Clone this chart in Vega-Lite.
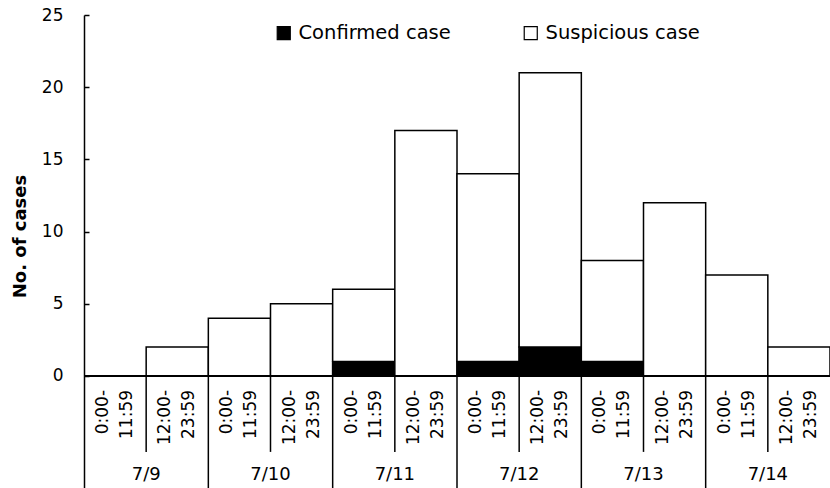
{
  "$schema": "https://vega.github.io/schema/vega-lite/v6.json",
  "width": 746,
  "height": 473,
  "autosize": {"type": "none"},
  "padding": {"left": 84, "top": 15, "right": 0, "bottom": 0},
  "background": "white",
  "config": {
    "view": {"stroke": null},
    "font": "DejaVu Sans",
    "text": {"font": "DejaVu Sans", "color": "black"}
  },
  "data": {
    "values": [
      {"slot": "7/9 AM", "day": "7/9", "part": "AM", "half": "0:00-\n11:59", "Confirmed case": 0, "Suspicious case": 0},
      {"slot": "7/9 PM", "day": "7/9", "part": "PM", "half": "12:00-\n23:59", "Confirmed case": 0, "Suspicious case": 2},
      {"slot": "7/10 AM", "day": "7/10", "part": "AM", "half": "0:00-\n11:59", "Confirmed case": 0, "Suspicious case": 4},
      {"slot": "7/10 PM", "day": "7/10", "part": "PM", "half": "12:00-\n23:59", "Confirmed case": 0, "Suspicious case": 5},
      {"slot": "7/11 AM", "day": "7/11", "part": "AM", "half": "0:00-\n11:59", "Confirmed case": 1, "Suspicious case": 5},
      {"slot": "7/11 PM", "day": "7/11", "part": "PM", "half": "12:00-\n23:59", "Confirmed case": 0, "Suspicious case": 17},
      {"slot": "7/12 AM", "day": "7/12", "part": "AM", "half": "0:00-\n11:59", "Confirmed case": 1, "Suspicious case": 13},
      {"slot": "7/12 PM", "day": "7/12", "part": "PM", "half": "12:00-\n23:59", "Confirmed case": 2, "Suspicious case": 19},
      {"slot": "7/13 AM", "day": "7/13", "part": "AM", "half": "0:00-\n11:59", "Confirmed case": 1, "Suspicious case": 7},
      {"slot": "7/13 PM", "day": "7/13", "part": "PM", "half": "12:00-\n23:59", "Confirmed case": 0, "Suspicious case": 12},
      {"slot": "7/14 AM", "day": "7/14", "part": "AM", "half": "0:00-\n11:59", "Confirmed case": 0, "Suspicious case": 7},
      {"slot": "7/14 PM", "day": "7/14", "part": "PM", "half": "12:00-\n23:59", "Confirmed case": 0, "Suspicious case": 2}
    ]
  },
  "layer": [
    {
      "transform": [{"fold": ["Confirmed case", "Suspicious case"], "as": ["type", "count"]}],
      "mark": {"type": "bar", "stroke": "black", "strokeWidth": 1.5},
      "encoding": {
        "x": {
          "field": "slot", "type": "nominal", "axis": null,
          "scale": {"type": "band", "paddingInner": 0, "paddingOuter": 0,
            "domain": ["7/9 AM", "7/9 PM", "7/10 AM", "7/10 PM", "7/11 AM", "7/11 PM", "7/12 AM", "7/12 PM", "7/13 AM", "7/13 PM", "7/14 AM", "7/14 PM"]}
        },
        "y": {
          "field": "count", "type": "quantitative", "stack": "zero",
          "scale": {"domain": [-7.76, 25], "nice": false, "zero": false},
          "axis": {
            "values": [0, 5, 10, 15, 20, 25],
            "grid": false,
            "domainColor": "black", "domainWidth": 1.5,
            "tickColor": "black", "tickSize": -5, "tickWidth": 1.5,
            "labelFontSize": 17, "labelColor": "black", "labelPadding": 26,
            "labelFont": "DejaVu Sans",
            "title": "No. of cases", "titleFontSize": 18, "titleFontWeight": "bold",
            "titleColor": "black", "titleFont": "DejaVu Sans", "titlePadding": 12,
            "titleY": 221
          }
        },
        "color": {
          "field": "type", "type": "nominal",
          "scale": {"domain": ["Confirmed case", "Suspicious case"], "range": ["black", "white"]},
          "legend": {
            "title": null, "orient": "none", "legendX": 190, "legendY": 8,
            "direction": "horizontal", "columns": 2,
            "symbolType": "square", "symbolSize": 170, "symbolStrokeColor": "black",
            "symbolStrokeWidth": 1.2, "labelFontSize": 19.5, "labelColor": "black",
            "labelFont": "DejaVu Sans", "labelOffset": 5, "columnPadding": 70
          }
        },
        "order": {"field": "type", "sort": "ascending"}
      }
    },
    {
      "mark": {"type": "rule", "color": "black", "strokeWidth": 1.5},
      "encoding": {"y": {"datum": 0}}
    },
    {
      "transform": [{"filter": "datum.part == 'PM'"}],
      "mark": {"type": "rule", "color": "black", "strokeWidth": 1.5},
      "encoding": {
        "x": {"field": "slot", "type": "nominal", "bandPosition": 0},
        "y": {"datum": 0},
        "y2": {"datum": -5.26}
      }
    },
    {
      "transform": [{"filter": "datum.part == 'AM' && datum.day != '7/9'"}],
      "mark": {"type": "rule", "color": "black", "strokeWidth": 1.5},
      "encoding": {
        "x": {"field": "slot", "type": "nominal", "bandPosition": 0},
        "y": {"datum": 0},
        "y2": {"datum": -7.76}
      }
    },
    {
      "mark": {"type": "text", "angle": 270, "align": "right", "baseline": "middle", "fontSize": 17, "lineBreak": "\n", "lineHeight": 24, "dy": -12},
      "encoding": {
        "x": {"field": "slot", "type": "nominal"},
        "y": {"datum": -0.97},
        "text": {"field": "half"}
      }
    },
    {
      "transform": [{"filter": "datum.part == 'PM'"}],
      "mark": {"type": "text", "align": "center", "baseline": "middle", "fontSize": 18},
      "encoding": {
        "x": {"field": "slot", "type": "nominal", "bandPosition": 0},
        "y": {"datum": -6.85},
        "text": {"field": "day"}
      }
    }
  ]
}
